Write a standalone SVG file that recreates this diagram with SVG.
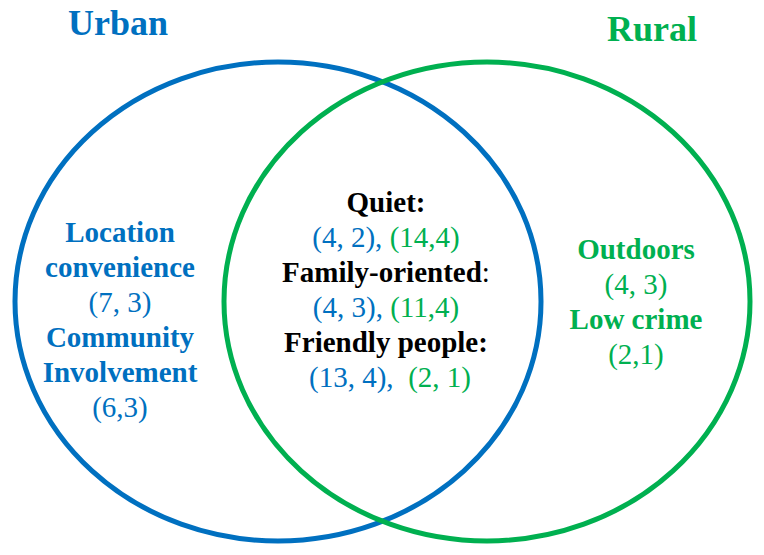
<svg xmlns="http://www.w3.org/2000/svg" width="764" height="555" viewBox="0 0 764 555">
<style>
text{font-family:"Liberation Serif","Times New Roman",serif;font-size:29px;text-anchor:middle}
.b{font-weight:bold}
.title{font-size:36px;font-weight:bold}
.blue{fill:#0070C0}
.green{fill:#00B050}
.blk{fill:#000}
.ring{fill:none;stroke-width:5}
</style>
<rect width="764" height="555" fill="#fff"/>
<g id="urban">
<ellipse class="ring" cx="278" cy="301.5" rx="263" ry="239.5" stroke="#0070C0"/>
<text class="title blue" x="118" y="35">Urban</text>
<text class="b blue" x="120" y="242">Location</text>
<text class="b blue" x="120" y="277">convenience</text>
<text class="blue" x="120" y="312">(7, 3)</text>
<text class="b blue" x="120" y="347">Community</text>
<text class="b blue" x="120" y="382">Involvement</text>
<text class="blue" x="120" y="417">(6,3)</text>
</g>
<g id="rural">
<ellipse class="ring" cx="487" cy="301.5" rx="263" ry="239.5" stroke="#00B050"/>
<text class="title green" x="652" y="41">Rural</text>
<text class="b green" x="636" y="259">Outdoors</text>
<text class="green" x="636" y="294">(4, 3)</text>
<text class="b green" x="636" y="329">Low crime</text>
<text class="green" x="636" y="364">(2,1)</text>
</g>
<g id="overlap">
<text class="b blk" x="386" y="212">Quiet:</text>
<text x="386" y="247" xml:space="preserve"><tspan class="blue">(4, 2),</tspan><tspan class="green"> (14,4)</tspan></text>
<text class="blk" x="386" y="282"><tspan class="b">Family-oriented</tspan>:</text>
<text x="386" y="317" xml:space="preserve"><tspan class="blue">(4, 3),</tspan><tspan class="green"> (11,4)</tspan></text>
<text class="b blk" x="386" y="352">Friendly people:</text>
<text x="390" y="387" xml:space="preserve"><tspan class="blue">(13, 4),</tspan><tspan class="green">  (2, 1)</tspan></text>
</g>
<g id="connectors"/>
</svg>
